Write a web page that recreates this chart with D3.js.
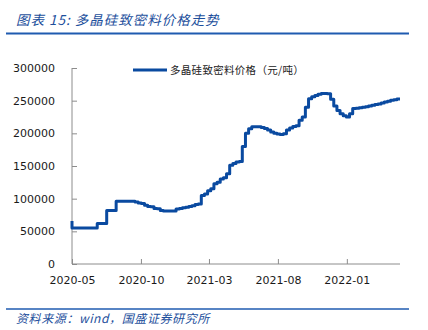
<!DOCTYPE html>
<html>
<head>
<meta charset="utf-8">
<script src="https://cdn.jsdelivr.net/npm/d3@7"></script>
<style>
  html, body { margin: 0; padding: 0; background: #fff; }
  svg { display: block; }
</style>
</head>
<body>
<svg id="chart" width="428" height="330"></svg>
<script>
// Weekly dense polysilicon price (yuan / ton), starting 2020-05-01
const startDate = new Date(2020, 4, 1);
const prices = [
  66000,
  55000, 55000, 55000, 55000, 55000, 55000, 55000, 55000,
  62000, 62000, 62000,
  82000, 82000, 82000,
  96000, 96000, 96000, 96000, 96000, 96000,
  95000, 93300, 92500, 90000, 88200, 87500, 85000, 84700, 82000,
  81000, 81000, 81000, 81000,
  84000, 85000, 86000, 87000, 88000, 89000, 91000, 92000,
  105000, 107000, 112000, 115000, 123000, 125000, 130000, 132000, 138000,
  151000, 154000, 156000, 157000,
  180000, 200000, 207000, 210000, 210000, 210000, 209000, 207500,
  205000, 202000, 200000, 199000, 198300, 199500, 205000, 208000,
  210500, 211500, 220000, 225000, 240000, 253000, 256000, 258000,
  260000, 261000, 261000, 260500, 252000, 242000, 235000, 230000,
  227000, 225000, 230000, 238000, 238500, 239000, 240000, 240500,
  242000, 243000, 244000, 245000, 246500, 248000, 249000, 250500,
  251500, 252500
];
const yTicks = [0, 50000, 100000, 150000, 200000, 250000, 300000];
const xTickLabels = ["2020-05", "2020-10", "2021-03", "2021-08", "2022-01"];
const seriesName = "多晶硅致密料价格（元/吨）";
const titleText = "图表 15:  多晶硅致密料价格走势";
const sourceText = "资料来源：wind，国盛证券研究所";

const data = prices.map((v, i) => ({ date: d3.timeDay.offset(startDate, 7 * i), value: v }));

const svg = d3.select("#chart");
const blue = "#0A4AA0";
const textBlue = "#1D4F9C";

const x = d3.scaleTime()
  .domain([startDate, data[data.length - 1].date])
  .range([72, 400]);
const y = d3.scaleLinear()
  .domain([0, 300000])
  .range([264, 68]);

// Title and rule
svg.append("text")
  .attr("x", 16).attr("y", 25)
  .attr("font-family", "'Noto Sans CJK SC', sans-serif")
  .attr("font-size", 13.5)
  .attr("font-style", "italic")
  .attr("letter-spacing", 1)
  .attr("fill", textBlue)
  .text(titleText);
svg.append("line")
  .attr("x1", 6).attr("x2", 409).attr("y1", 33.5).attr("y2", 33.5)
  .attr("stroke", "#1F5BB0").attr("stroke-width", 2);

// Axes
const yAxis = d3.axisLeft(y).tickValues(yTicks).tickSize(-5).tickPadding(17)
  .tickFormat(d3.format("d"));
const xTickDates = xTickLabels.map(s => d3.timeParse("%Y-%m")(s));
const xAxis = d3.axisBottom(x).tickValues(xTickDates).tickSize(-5).tickPadding(12)
  .tickFormat(d3.timeFormat("%Y-%m"));

const gy = svg.append("g").attr("transform", "translate(72,0)").call(yAxis);
const gx = svg.append("g").attr("transform", "translate(0,264)").call(xAxis);
[gx, gy].forEach(g => {
  g.selectAll(".domain").attr("stroke", "#8c8c8c").attr("stroke-width", 1);
  g.selectAll(".tick line").attr("stroke", "#8c8c8c");
  g.selectAll("text")
    .attr("font-family", "'DejaVu Sans', Verdana, sans-serif")
    .attr("font-size", 11)
    .attr("fill", "#1a1a1a");
});
gy.select(".domain").attr("d", `M0,${y(300000)}V${y(0)}`);
gx.select(".domain").attr("d", `M72,0H400`);

// Price line
const line = d3.line()
  .x(d => x(d.date))
  .y(d => y(d.value))
  .curve(d3.curveStepBefore);
svg.append("path")
  .datum(data)
  .attr("fill", "none")
  .attr("stroke", blue)
  .attr("stroke-width", 3)
  .attr("stroke-linejoin", "round")
  .attr("d", line);

// Legend
svg.append("line")
  .attr("x1", 133).attr("x2", 167).attr("y1", 70).attr("y2", 70)
  .attr("stroke", blue).attr("stroke-width", 3);
svg.append("text")
  .attr("x", 170).attr("y", 74)
  .attr("font-family", "'Noto Sans CJK SC', sans-serif")
  .attr("font-size", 10.5)
  .attr("letter-spacing", 0.3)
  .attr("fill", "#222")
  .text(seriesName);

// Source rule and note
svg.append("line")
  .attr("x1", 6).attr("x2", 409).attr("y1", 309).attr("y2", 309)
  .attr("stroke", "#1F5BB0").attr("stroke-width", 1.5);
svg.append("text")
  .attr("x", 16).attr("y", 323)
  .attr("font-family", "'Noto Sans CJK SC', sans-serif")
  .attr("font-size", 12)
  .attr("font-style", "italic")
  .attr("letter-spacing", 0.6)
  .attr("fill", textBlue)
  .text(sourceText);
</script>
</body>
</html>
